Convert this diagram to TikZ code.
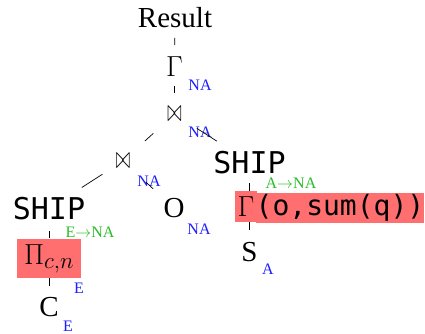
\RequirePackage{fix-cm}
\documentclass[tikz,border=0pt]{standalone}
\usepackage{fontspec}
\setmainfont{Liberation Serif}
\setmonofont{DejaVu Sans Mono}

\definecolor{hl}{RGB}{255,111,111}
\definecolor{anno}{RGB}{30,30,255}
\definecolor{prop}{RGB}{40,190,40}

\newcommand{\joinsym}{\scalebox{0.6}[1.1]{$\bowtie$}}
\newcommand{\subsz}[1]{\hbox{\fontsize{23}{27}\selectfont$#1$}}

\begin{document}
\begin{tikzpicture}[x=1pt,y=-1pt,
  every node/.style={inner sep=0pt, outer sep=0pt},
  op/.style={anchor=base, font=\fontsize{29}{34}\selectfont},
  rel/.style={anchor=base, font=\fontsize{30}{34}\selectfont\ttfamily},
  joinop/.style={font=\fontsize{29}{34}\selectfont},
  ann/.style={anchor=base, text=anno, font=\fontsize{16}{19}\selectfont},
  trans/.style={anchor=base, text=prop, font=\fontsize{16}{19}\selectfont},
  hlbox/.style={fill=hl},
  edge/.style={draw=black, line width=0.7pt}]
\useasboundingbox (0,0) rectangle (425,333);

% operators and relations
\node[op] (res) at (175,27) {Result};
\node[op] (agg) at (174.5,76) {$\Gamma$};
\node[ann] at (200,90) {NA};
\node[joinop] (j1) at (174.5,114) {\joinsym};
\node[ann] at (200,137) {NA};
\node[rel] (shipR) at (249.5,173) {SHIP};
\node[joinop] (j2) at (123,161) {\joinsym};
\node[ann] at (149,186) {NA};
\node[rel] (shipL) at (49,219.5) {SHIP};
\node[trans] at (90,237) {E$\rightarrow$NA};
\node[op] (o) at (174,217.5) {O};
\node[ann] at (199,234) {NA};
\node[trans] at (291,188) {A$\rightarrow$NA};
\node[hlbox, minimum width=22pt, minimum height=31pt,
      font=\fontsize{29}{34}\selectfont] (gbox) at (246,206.5) {$\Gamma$};
\node[hlbox, minimum width=166pt, minimum height=30pt,
      font=\fontsize{28}{34}\selectfont\ttfamily] (args) at (340,208) {(o,sum(q))};
\node[op] (s) at (249.5,261) {S};
\node[ann] at (268,274) {A};
\node[hlbox, minimum width=64pt, minimum height=39pt,
      font=\fontsize{29}{34}\selectfont] (proj) at (49,258.5) {$\Pi_{\subsz{c{,}n}}$};
\node[ann] at (79,293) {E};
\node[op] (c) at (49,316.5) {C};
\node[ann] at (68,331) {E};

% tree edges
\draw[edge, shorten <=20.9pt, shorten >=21.1pt] (res.center) -- (agg.center);
\draw[edge, shorten <=19.9pt, shorten >=21pt] (agg.center) -- (j1.center);
\draw[edge, shorten <=28.7pt, shorten >=29.7pt] (j1.center) -- (j2.center);
\draw[edge, shorten <=26.5pt, shorten >=38.7pt] (j1.center) -- (shipR.center);
\draw[edge, shorten <=24.5pt, shorten >=39pt] (j2.center) -- (shipL.center);
\draw[edge, shorten <=31pt, shorten >=28.4pt] (j2.center) -- (o.center);
\draw[edge, shorten <=22.6pt, shorten >=20.5pt] (shipL.center) -- (proj.center);
\draw[edge, shorten <=19.5pt, shorten >=20.7pt] (proj.center) -- (c.center);
\draw[edge, shorten <=21.1pt] (shipR.center) -- (shipR.center |- gbox.north);
\draw[edge, shorten >=21.4pt] (gbox.south -| s.center) -- (s.center);
\end{tikzpicture}
\end{document}
